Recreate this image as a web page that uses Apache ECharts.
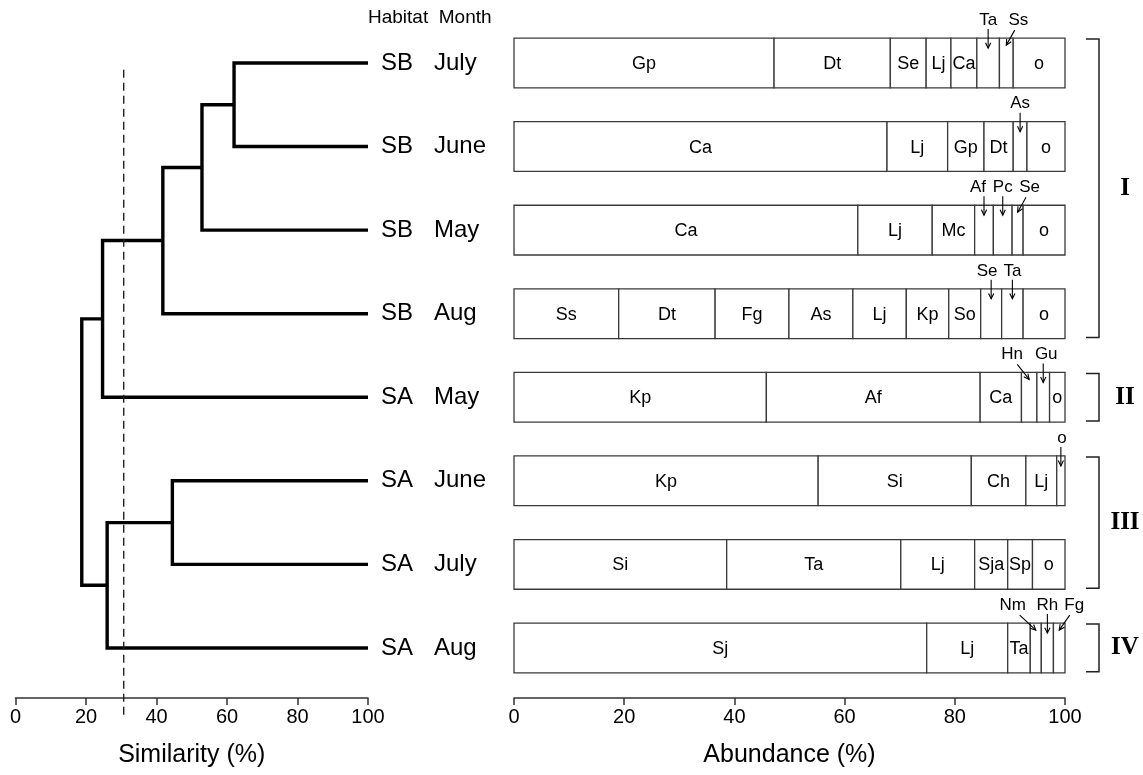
<!DOCTYPE html>
<html><head><meta charset="utf-8">
<script src="https://cdn.jsdelivr.net/npm/echarts@6/dist/echarts.min.js"></script>
<style>html,body{margin:0;padding:0;background:#fff}#c{width:1143px;height:775px}</style>
</head><body><div id="c"></div>
<script>
// ---------- DATA ----------
const habitats = ['SB','SB','SB','SB','SA','SA','SA','SA'];
const months   = ['July','June','May','Aug','May','June','July','Aug'];

const speciesSBJuly = ['Gp','Dt','Se','Lj','Ca','Ta','Ss','o'];
const valuesSBJuly  = [47.2,21.1,6.5,4.5,4.7,4.1,2.5,9.4];
const speciesSBJune = ['Ca','Lj','Gp','Dt','As','o'];
const valuesSBJune  = [67.7,11.0,6.6,5.3,2.5,6.9];
const speciesSBMay  = ['Ca','Lj','Mc','Af','Pc','Se','o'];
const valuesSBMay   = [62.4,13.5,7.7,3.4,3.4,2.0,7.6];
const speciesSBAug  = ['Ss','Dt','Fg','As','Lj','Kp','So','Se','Ta','o'];
const valuesSBAug   = [19.0,17.5,13.4,11.6,9.7,7.7,5.8,3.8,3.9,7.6];
const speciesSAMay  = ['Kp','Af','Ca','Hn','Gu','o'];
const valuesSAMay   = [45.8,38.8,7.5,2.8,2.3,2.8];
const speciesSAJune = ['Kp','Si','Ch','Lj','o'];
const valuesSAJune  = [55.2,27.8,9.9,5.6,1.5];
const speciesSAJuly = ['Si','Ta','Lj','Sja','Sp','o'];
const valuesSAJuly  = [38.6,31.6,13.4,6.0,4.5,5.9];
const speciesSAAug  = ['Sj','Lj','Ta','Nm','Rh','Fg'];
const valuesSAAug   = [74.9,14.7,4.1,2.0,2.2,2.1];

// species labelled outside the bar with an arrow: [row, species]
const calloutRows    = [0,0,1,2,2,2,3,3,4,4,5,7,7,7];
const calloutSpecies = ['Ta','Ss','As','Af','Pc','Se','Se','Ta','Hn','Gu','o','Nm','Rh','Fg'];

// dendrogram merges (similarity %); children: leaf row index or 'n'+merge index
const mergeLeft  = [0, 'n0', 'n1', 'n2', 5, 'n4', 'n3'];
const mergeRight = [1, 2, 3, 4, 6, 7, 'n5'];
const mergeSim   = [62.0, 52.9, 41.8, 24.7, 44.5, 26.0, 18.8];
const cutoffSimilarity = 30.7;

// cluster groups
const groupLabels = ['I','II','III','IV'];
const groupFirst  = [0,4,5,7];
const groupLast   = [3,4,6,7];

const xTicks = [0,20,40,60,80,100];

// ---------- STYLE ----------
const SANS = '"Liberation Sans", Arial, sans-serif';
const SERIF = '"Liberation Serif", "DejaVu Serif", serif';
const BAR_THICK = 0.595;
const calloutStyle = { // textDx (px), diagonal arrow?
  '0:Ta':[0,false], '0:Ss':[12,true], '1:As':[0,false],
  '2:Af':[-6,false], '2:Pc':[0,false], '2:Se':[12,true],
  '3:Se':[-4,false], '3:Ta':[0,false],
  '4:Hn':[-17,true], '4:Gu':[3,false], '5:o':[1,false],
  '7:Nm':[-23,true], '7:Rh':[0,false], '7:Fg':[15,true]
};
const CUT_TOP = 0.08, CUT_BOTTOM = 7.8;

// ---------- BUILD ----------
const rowSpecies = [speciesSBJuly,speciesSBJune,speciesSBMay,speciesSBAug,speciesSAMay,speciesSAJune,speciesSAJuly,speciesSAAug];
const rowValues  = [valuesSBJuly,valuesSBJune,valuesSBMay,valuesSBAug,valuesSAMay,valuesSAJune,valuesSAJuly,valuesSAAug];

const segData = [], segName = [], segCallout = [];
rowValues.forEach((vals, r) => {
  let acc = 0;
  vals.forEach((v, i) => {
    const name = rowSpecies[r][i];
    segData.push([acc, acc + v, r]);
    segName.push(name);
    let isC = false;
    for (let k = 0; k < calloutRows.length; k++) if (calloutRows[k] === r && calloutSpecies[k] === name) isC = true;
    segCallout.push(isC);
    acc += v;
  });
});

const calloutData = [], calloutKey = [];
for (let k = 0; k < calloutRows.length; k++) {
  const r = calloutRows[k];
  const idx = rowSpecies[r].indexOf(calloutSpecies[k]);
  let acc = 0; for (let i = 0; i < idx; i++) acc += rowValues[r][i];
  calloutData.push([acc + rowValues[r][idx] / 2, r]);
  calloutKey.push(r + ':' + calloutSpecies[k]);
}

// dendrogram geometry
const nodeY = [], nodeSim = [];
function childPos(c) {
  if (typeof c === 'number') return [100, c];
  const m = +c.slice(1); return [nodeSim[m], nodeY[m]];
}
const dendroData = [];
mergeSim.forEach((s, m) => {
  const a = childPos(mergeLeft[m]), b = childPos(mergeRight[m]);
  nodeSim[m] = s; nodeY[m] = (a[1] + b[1]) / 2;
  dendroData.push([s, a[1], a[0], b[1], b[0]]);
});

const leafData = habitats.map((h, i) => [100, i]);
const groupData = groupLabels.map((g, i) => [100, groupFirst[i], groupLast[i]]);

// ---------- CHART ----------
const chart = echarts.init(document.getElementById('c'), null, {renderer: 'canvas'});
const GT = 21.2, GH = 676.9;
const axisCommon = {
  type: 'value', min: 0, max: 100, interval: 20,
  axisLine: {show: true, onZero: false, lineStyle: {color: '#333', width: 1.5}},
  axisTick: {show: true, inside: false, length: 7, lineStyle: {color: '#333', width: 1.5}},
  axisLabel: {color: '#000', fontSize: 20, fontFamily: SANS, margin: 9,
    formatter: v => xTicks.indexOf(v) >= 0 ? String(v) : ''},
  splitLine: {show: false},
  nameLocation: 'middle', nameGap: 45,
  nameTextStyle: {color: '#000', fontSize: 25, fontFamily: SANS}
};
const yCommon = {type: 'value', min: -0.5, max: 7.6, inverse: true, show: false};

const option = {
  animation: false,
  backgroundColor: '#fff',
  title: {text: 'Habitat  Month', left: 363, top: 3,
    textStyle: {fontSize: 19, fontWeight: 'normal', color: '#000', fontFamily: SANS}},
  grid: [
    {left: 15.5, top: GT, width: 352.5, height: GH},
    {left: 514, top: GT, width: 551, height: GH}
  ],
  xAxis: [
    Object.assign({}, axisCommon, {gridIndex: 0, name: 'Similarity (%)'}),
    Object.assign({}, axisCommon, {gridIndex: 1, name: 'Abundance (%)'})
  ],
  yAxis: [Object.assign({}, yCommon, {gridIndex: 0}), Object.assign({}, yCommon, {gridIndex: 1})],
  series: [
    { // dendrogram
      type: 'custom', xAxisIndex: 0, yAxisIndex: 0, clip: false,
      encode: {x: [0, 2, 4], y: [1, 3]},
      data: dendroData,
      renderItem: (p, api) => {
        const s = api.value(0), ya = api.value(1), sa = api.value(2), yb = api.value(3), sb = api.value(4);
        const pts = [api.coord([sa, ya]), api.coord([s, ya]), api.coord([s, yb]), api.coord([sb, yb])];
        return {type: 'polyline', shape: {points: pts}, style: {stroke: '#000', lineWidth: 3.4, fill: null, lineJoin: 'miter'}};
      }
    },
    { // cutoff dashed line
      type: 'custom', xAxisIndex: 0, yAxisIndex: 0, clip: false,
      data: [[cutoffSimilarity, 0]],
      renderItem: (p, api) => {
        const a = api.coord([api.value(0), CUT_TOP]), b = api.coord([api.value(0), CUT_BOTTOM]);
        return {type: 'line', shape: {x1: a[0], y1: a[1], x2: b[0], y2: b[1]},
          style: {stroke: '#222', lineWidth: 1.4, lineDash: [8, 5]}};
      }
    },
    { // leaf labels
      type: 'custom', xAxisIndex: 0, yAxisIndex: 0, clip: false,
      data: leafData,
      renderItem: (p, api) => {
        const c = api.coord([api.value(0), api.value(1)]);
        const i = p.dataIndex;
        return {type: 'group', children: [
          {type: 'text', style: {text: habitats[i], x: c[0] + 13, y: c[1], align: 'left', verticalAlign: 'middle', fontSize: 24, fontFamily: SANS, fill: '#000'}},
          {type: 'text', style: {text: months[i], x: c[0] + 66, y: c[1], align: 'left', verticalAlign: 'middle', fontSize: 24, fontFamily: SANS, fill: '#000'}}
        ]};
      }
    },
    { // stacked abundance bars
      type: 'custom', xAxisIndex: 1, yAxisIndex: 1, clip: false,
      encode: {x: [0, 1], y: 2},
      data: segData,
      renderItem: (p, api) => {
        const a = api.coord([api.value(0), api.value(2)]), b = api.coord([api.value(1), api.value(2)]);
        const h = api.size([0, BAR_THICK])[1];
        const ch = [{type: 'rect', shape: {x: a[0], y: a[1] - h / 2, width: b[0] - a[0], height: h},
          style: {fill: '#fff', stroke: '#3a3a3a', lineWidth: 1.3}}];
        if (!segCallout[p.dataIndex]) {
          ch.push({type: 'text', z2: 10, style: {text: segName[p.dataIndex], x: (a[0] + b[0]) / 2, y: a[1] + 1,
            align: 'center', verticalAlign: 'middle', fontSize: 18, fontFamily: SANS, fill: '#000'}});
        }
        return {type: 'group', children: ch};
      }
    },
    { // callouts with arrows
      type: 'custom', xAxisIndex: 1, yAxisIndex: 1, clip: false, z: 5,
      data: calloutData,
      renderItem: (p, api) => {
        const c = api.coord([api.value(0), api.value(1)]);
        const h = api.size([0, BAR_THICK])[1];
        const top = c[1] - h / 2;
        const key = calloutKey[p.dataIndex];
        const st = calloutStyle[key] || [0, false];
        const name = key.split(':')[1];
        const tx = c[0] + st[0];
        let x1, y1, x2, y2;
        if (st[1]) { x1 = tx - st[0] * 0.3; y1 = top - 8; x2 = c[0]; y2 = top + 7; }
        else { x1 = c[0]; y1 = top - 9; x2 = c[0]; y2 = top + 10; }
        const ang = Math.atan2(y2 - y1, x2 - x1), L = 6, sp = 0.45;
        const head = [[x2 - L * Math.cos(ang - sp), y2 - L * Math.sin(ang - sp)], [x2, y2], [x2 - L * Math.cos(ang + sp), y2 - L * Math.sin(ang + sp)]];
        const lineSt = {stroke: '#000', lineWidth: 1.1, fill: null};
        return {type: 'group', children: [
          {type: 'text', style: {text: name, x: tx, y: top - 18, align: 'center', verticalAlign: 'middle', fontSize: 17, fontFamily: SANS, fill: '#000'}},
          {type: 'line', shape: {x1, y1, x2, y2}, style: lineSt},
          {type: 'polyline', shape: {points: head}, style: lineSt}
        ]};
      }
    },
    { // cluster brackets
      type: 'custom', xAxisIndex: 1, yAxisIndex: 1, clip: false,
      data: groupData,
      renderItem: (p, api) => {
        const h = api.size([0, BAR_THICK])[1];
        const a = api.coord([api.value(0), api.value(1)]), b = api.coord([api.value(0), api.value(2)]);
        const x = a[0] + 34, y1 = a[1] - h / 2 + 1, y2 = b[1] + h / 2 - 1;
        return {type: 'group', children: [
          {type: 'polyline', shape: {points: [[x - 13, y1], [x, y1], [x, y2], [x - 13, y2]]}, style: {stroke: '#222', lineWidth: 1.5, fill: null}},
          {type: 'text', style: {text: groupLabels[p.dataIndex], x: x + 26, y: (y1 + y2) / 2, align: 'center', verticalAlign: 'middle',
            fontSize: 25, fontWeight: 'bold', fontFamily: SERIF, fill: '#000'}}
        ]};
      }
    }
  ]
};
chart.setOption(option);
</script></body></html>
